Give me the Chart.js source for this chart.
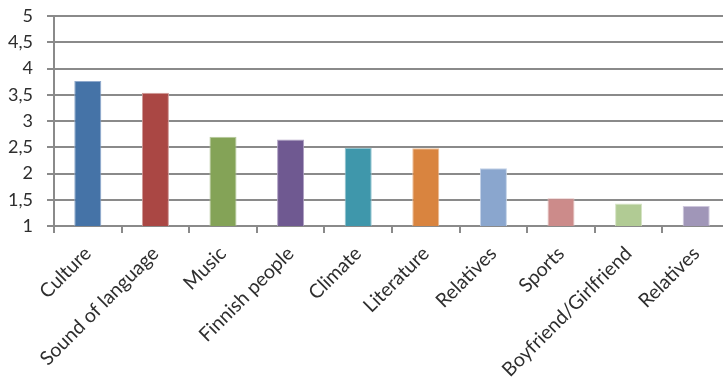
<!DOCTYPE html>
<html><head><meta charset="utf-8">
<script src="https://cdn.jsdelivr.net/npm/chart.js@4"></script>
<style>html,body{margin:0;padding:0;overflow:hidden;background:#fff;width:723px;height:379px}</style>
</head><body>
<canvas id="c" width="730" height="379"></canvas>
<script>
const categories = ["Culture","Sound of language","Music","Finnish people","Climate","Literature","Relatives","Sports","Boyfriend/Girlfriend","Relatives"];
const values = [3.76,3.54,2.70,2.65,2.49,2.48,2.10,1.53,1.43,1.38];
const yTicks = [1,1.5,2,2.5,3,3.5,4,4.5,5];
const barColors = ["#4573a7","#aa4744","#84a357","#6f5991","#3f97ab","#d9843f","#8aa6ce","#cc8b8a","#b1cb94","#a096b8"];
const borderColors = ["#8fa9cc","#d09a98","#b5c99a","#aea0c2","#93c4d0","#eebf97","#c3d2e7","#e6c2c1","#d5e3c5","#cdc6dc"];
const fam = "Lato, 'DejaVu Sans', sans-serif";
new Chart(document.getElementById('c'), {
  type:'bar',
  data:{labels:categories, datasets:[{data:values, backgroundColor:barColors, borderColor:borderColors, borderWidth:1, barPercentage:0.4, categoryPercentage:1}]},
  options:{
    responsive:false, animation:false,
    layout:{padding:{top:16,right:0,left:0,bottom:0}},
    plugins:{legend:{display:false}, tooltip:{enabled:false}},
    scales:{
      y:{min:1,max:5,
        afterFit:s=>{s.width=54;s.paddingTop=0;s.paddingBottom=0;},
        afterBuildTicks:s=>{s.ticks=yTicks.map(v=>({value:v}));},
        ticks:{font:{family:fam,size:18},color:'#2e2e2e',padding:14,callback:v=>String(v).replace('.',',')},
        grid:{color:'#8a8a8a',lineWidth:2,tickLength:7},
        border:{color:'#8a8a8a',width:2}
      },
      x:{
        afterFit:s=>{s.height=153;s.paddingLeft=0;s.paddingRight=0;},
        ticks:{font:{family:fam,size:19.5},color:'#2e2e2e',minRotation:45,maxRotation:45,padding:9},
        grid:{display:true,drawOnChartArea:false,drawTicks:true,tickLength:7,color:'#8a8a8a',lineWidth:2,offset:true},
        border:{color:'#8a8a8a',width:2}
      }
    }
  }
});
</script>
</body></html>
